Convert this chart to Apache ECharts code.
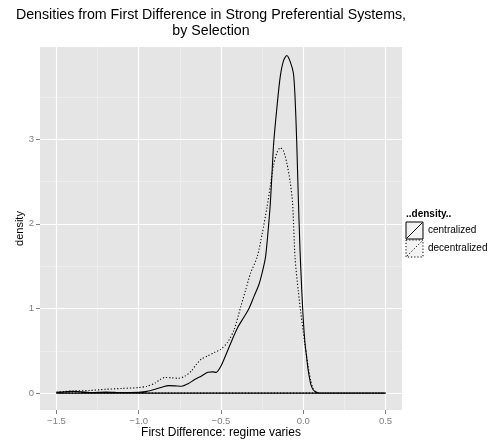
<!DOCTYPE html>
<html>
<head>
<meta charset="utf-8">
<script src="https://cdn.jsdelivr.net/npm/echarts@6/dist/echarts.min.js"></script>
<style>
html, body { margin: 0; padding: 0; background: #fff; }
#chart { width: 494px; height: 442px; }
</style>
</head>
<body>
<div id="chart"></div>
<script>
// density curves
const centralizedX = [-1.5, -1.45, -1.4, -1.35, -1.3, -1.2, -1.1, -1.0, -0.95, -0.9, -0.85, -0.82, -0.78, -0.74, -0.7, -0.66, -0.62, -0.58, -0.55, -0.53, -0.5, -0.46, -0.43, -0.4, -0.36, -0.33, -0.3, -0.27, -0.25, -0.23, -0.22, -0.21, -0.2, -0.19, -0.18, -0.16, -0.14, -0.12, -0.1, -0.08, -0.06, -0.05, -0.04, -0.03, -0.02, -0.01, 0.0, 0.01, 0.02, 0.03, 0.045, 0.06, 0.075, 0.09, 0.1, 0.5];
const centralizedY = [0.01, 0.015, 0.02, 0.015, 0.005, 0.012, 0.005, 0.01, 0.02, 0.045, 0.075, 0.088, 0.085, 0.08, 0.11, 0.16, 0.2, 0.245, 0.25, 0.245, 0.32, 0.5, 0.64, 0.77, 0.9, 1.0, 1.14, 1.28, 1.42, 1.6, 1.78, 2.0, 2.25, 2.6, 2.95, 3.38, 3.74, 3.93, 3.99, 3.92, 3.78, 3.5, 2.98, 2.3, 1.7, 1.25, 0.87, 0.6, 0.43, 0.27, 0.11, 0.04, 0.015, 0.003, 0, 0];
const decentralizedX = [-1.5, -1.45, -1.4, -1.3, -1.2, -1.1, -1.0, -0.95, -0.9, -0.87, -0.84, -0.8, -0.76, -0.72, -0.68, -0.65, -0.62, -0.58, -0.54, -0.5, -0.46, -0.42, -0.38, -0.35, -0.32, -0.28, -0.25, -0.22, -0.2, -0.18, -0.16, -0.14, -0.12, -0.1, -0.08, -0.065, -0.05, -0.03, -0.015, 0.0, 0.01, 0.02, 0.03, 0.045, 0.06, 0.075, 0.09, 0.1, 0.5];
const decentralizedY = [0.01, 0.02, 0.025, 0.03, 0.045, 0.055, 0.065, 0.08, 0.12, 0.16, 0.185, 0.18, 0.175, 0.2, 0.26, 0.34, 0.4, 0.44, 0.48, 0.52, 0.6, 0.75, 1.02, 1.22, 1.42, 1.61, 1.88, 2.2, 2.45, 2.7, 2.84, 2.9, 2.86, 2.72, 2.5, 2.25, 1.6, 1.2, 0.95, 0.72, 0.57, 0.44, 0.31, 0.15, 0.05, 0.015, 0.003, 0, 0];

const xTicks = [-1.5, -1.0, -0.5, 0.0, 0.5];
const xMinor = [-1.25, -0.75, -0.25, 0.25];
const yTicks = [0, 1, 2, 3];
const yMinor = [0.5, 1.5, 2.5, 3.5];

const FONT = 'Liberation Sans, Arial, sans-serif';

// geom_density outlines are closed polygons: curve, then back along the baseline
function outline(xs, ys) {
  const pts = xs.map((x, i) => [x, ys[i]]);
  pts.push([xs[0], 0]);
  return pts;
}

const chart = echarts.init(document.getElementById('chart'));

const option = {
  animation: false,
  backgroundColor: '#ffffff',
  grid: {
    left: 40,
    top: 47,
    right: 92,
    bottom: 32,
    containLabel: false,
    outerBoundsMode: 'none',
    show: true,
    backgroundColor: '#E5E5E5',
    borderWidth: 0
  },
  xAxis: [
    {
      type: 'value',
      min: -1.6,
      max: 0.6,
      name: 'First Difference: regime varies',
      nameLocation: 'middle',
      nameGap: 17,
      nameMoveOverlap: false,
      nameTextStyle: { color: '#000', fontSize: 12, fontFamily: FONT },
      axisLine: { show: false, onZero: false },
      axisTick: { show: true, length: 4, customValues: xTicks, lineStyle: { color: '#7F7F7F' } },
      axisLabel: {
        customValues: xTicks,
        color: '#7F7F7F',
        fontSize: 9.5,
        fontFamily: FONT,
        margin: 6,
        formatter: (v) => v.toFixed(1).replace('-', '\u2212')
      },
      splitLine: { show: true, lineStyle: { color: '#ffffff', width: 1.2 } }
    },
    {
      type: 'value',
      min: -1.6,
      max: 0.6,
      position: 'bottom',
      axisLine: { show: false, onZero: false },
      axisTick: { show: false, customValues: xMinor },
      axisLabel: { show: false, customValues: xMinor },
      splitLine: { show: true, lineStyle: { color: '#F2F2F2', width: 0.6 } }
    }
  ],
  yAxis: [
    {
      type: 'value',
      min: -0.2,
      max: 4.09,
      name: 'density',
      nameLocation: 'middle',
      nameGap: 15,
      nameMoveOverlap: false,
      nameTextStyle: { color: '#000', fontSize: 11, fontFamily: FONT },
      axisLine: { show: false, onZero: false },
      axisTick: { show: true, length: 4, customValues: yTicks, lineStyle: { color: '#7F7F7F' } },
      axisLabel: {
        customValues: yTicks,
        color: '#7F7F7F',
        fontSize: 9.5,
        fontFamily: FONT,
        margin: 6
      },
      splitLine: { show: true, lineStyle: { color: '#ffffff', width: 1.2 } }
    },
    {
      type: 'value',
      min: -0.2,
      max: 4.09,
      position: 'left',
      axisLine: { show: false, onZero: false },
      axisTick: { show: false, customValues: yMinor },
      axisLabel: { show: false, customValues: yMinor },
      splitLine: { show: true, lineStyle: { color: '#F2F2F2', width: 0.6 } }
    }
  ],
  series: [
    {
      name: 'centralized',
      type: 'line',
      showSymbol: false,
      smooth: 0.25,
      data: outline(centralizedX, centralizedY),
      lineStyle: { color: '#000', width: 1.1, type: 'solid' },
      z: 3
    },
    {
      name: 'decentralized',
      type: 'line',
      showSymbol: false,
      smooth: 0.25,
      data: outline(decentralizedX, decentralizedY),
      lineStyle: { color: '#000', width: 1.1, type: [1.2, 2] },
      z: 4
    }
  ],
  graphic: [
    {
      type: 'text',
      x: 211,
      y: 7,
      style: {
        text: 'Densities from First Difference in Strong Preferential Systems,\nby Selection',
        align: 'center',
        font: '14.2px ' + FONT,
        lineHeight: 16,
        fill: '#000'
      }
    },
    {
      type: 'text',
      x: 406,
      y: 209,
      style: { text: '..density..', font: 'bold 10px ' + FONT, fill: '#000' }
    },
    {
      type: 'rect',
      shape: { x: 406, y: 222, width: 17, height: 17 },
      style: { fill: '#F2F2F2', stroke: '#000', lineWidth: 1 }
    },
    {
      type: 'line',
      shape: { x1: 407, y1: 238, x2: 422, y2: 223 },
      style: { stroke: '#000', lineWidth: 1 }
    },
    {
      type: 'rect',
      shape: { x: 406, y: 240, width: 17, height: 17 },
      style: { fill: '#F2F2F2', stroke: '#000', lineWidth: 1, lineDash: [1.2, 2] }
    },
    {
      type: 'line',
      shape: { x1: 407, y1: 256, x2: 422, y2: 241 },
      style: { stroke: '#000', lineWidth: 1, lineDash: [1.2, 2] }
    },
    {
      type: 'text',
      x: 428,
      y: 225,
      style: { text: 'centralized', font: '10px ' + FONT, fill: '#000' }
    },
    {
      type: 'text',
      x: 428,
      y: 243,
      style: { text: 'decentralized', font: '10px ' + FONT, fill: '#000' }
    }
  ]
};

chart.setOption(option);
</script>
</body>
</html>
